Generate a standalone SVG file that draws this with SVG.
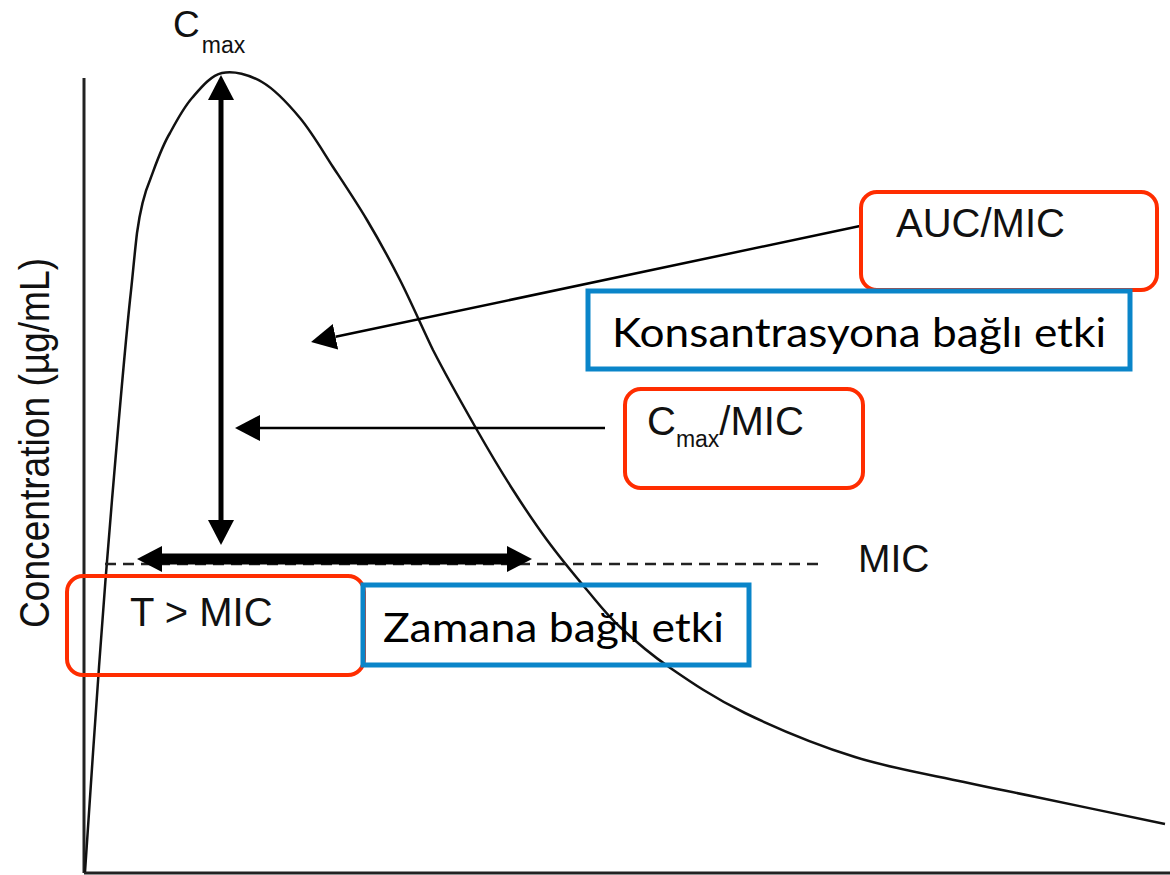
<svg xmlns="http://www.w3.org/2000/svg" width="1170" height="875" viewBox="0 0 1170 875">
  <style>
    .ar { font-family: "Liberation Sans", Arial, sans-serif; fill: #111; }
    .cal { font-family: Lato, "Open Sans", sans-serif; fill: #000; }
    .red { fill: none; stroke: #ff2d00; stroke-width: 4; }
    .blue { fill: none; stroke: #0a85c9; stroke-width: 5; }
    .ax { fill: none; stroke: #222; stroke-width: 3; }
    .curve { fill: none; stroke: #111; stroke-width: 2.5; stroke-linejoin: round; }
    .conn { fill: none; stroke: #000; }
  </style>
  <defs>
    <marker id="head" markerUnits="userSpaceOnUse" viewBox="0 0 25 26" markerWidth="25" markerHeight="26" refX="0" refY="13" orient="auto-start-reverse">
      <path d="M0,0 L25,13 L0,26 Z" fill="#000"/>
    </marker>
  </defs>
  <rect width="1170" height="875" fill="#fff"/>

  <g id="axes">
    <line class="ax" x1="84" y1="78" x2="84" y2="873"/>
    <line class="ax" x1="84" y1="873" x2="1170" y2="873"/>
    <text class="ar" transform="translate(49,443) rotate(-90)" text-anchor="middle" font-size="43" textLength="370" lengthAdjust="spacingAndGlyphs">Concentration (µg/mL)</text>
  </g>

  <g id="curve">
    <path class="curve" d="M85,872 C87.3,837.8 94.5,729 99,667 C103.5,605 106.8,561.2 112,500 C117.2,438.8 123.7,360 130,300 C132.5,278 134.5,254 137,233 C140,211 144,194 150,180 C156.7,162 162,146 170,133 C177,120 183.3,108 192,98 C200.7,88 210.3,75.7 222,73 C233.7,70.3 249,74.5 262,82 C275,89.5 288.2,103.8 300,118 C311.8,132.2 322,150 333,167 C344.2,184 355.8,201.2 367,220 C378.2,238.8 389,258.3 400,280 C411,301.7 421,325 433,350 C445.8,375 463.7,406.7 477,430 C490.3,453.3 501.3,471.7 513,490 C524.7,508.3 534.7,523.3 547,540 C559.3,556.7 574.8,575.5 587,590 C599.2,604.5 606.3,614.2 620,627 C633.7,639.8 648.2,652.7 669,667 C689.8,681.3 714,698 745,713 C776,728 818.5,745.5 855,757 C891.5,768.5 933.8,775.3 964,782 C994.2,788.7 1002.5,790 1036,797 C1069.5,804 1143.5,819.5 1165,824"/>
  </g>

  <g id="mic-line">
    <line x1="105" y1="564" x2="820" y2="564" stroke="#222" stroke-width="2.5" stroke-dasharray="11 7"/>
    <text class="ar" x="858" y="572" font-size="39">MIC</text>
  </g>

  <g id="cmax-label">
    <text class="ar" x="173" y="37" font-size="37">C<tspan font-size="23" dx="2" dy="16">max</tspan></text>
  </g>

  <g id="connectors">
    <line class="conn" x1="221" y1="100" x2="221" y2="520" stroke-width="5" marker-start="url(#head)" marker-end="url(#head)"/>
    <line class="conn" x1="162" y1="559" x2="507" y2="559" stroke-width="11" marker-start="url(#head)" marker-end="url(#head)"/>
    <line class="conn" x1="605" y1="428" x2="260" y2="428" stroke-width="2.5" marker-end="url(#head)"/>
    <line class="conn" x1="860" y1="226" x2="335.5" y2="336.8" stroke-width="2.5" marker-end="url(#head)"/>
  </g>

  <g id="node-auc">
    <rect class="red" x="861" y="192" width="296" height="98" rx="16"/>
    <text class="ar" x="896" y="237" font-size="40">AUC/MIC</text>
  </g>

  <g id="node-konsantrasyon">
    <rect class="blue" x="588" y="291" width="542" height="78"/>
    <text class="cal" x="612" y="347" font-size="40" textLength="494" lengthAdjust="spacingAndGlyphs">Konsantrasyona bağlı etki</text>
  </g>

  <g id="node-cmax-mic">
    <rect class="red" x="625" y="389" width="238" height="99" rx="16"/>
    <text class="ar" x="647" y="435" font-size="40">C<tspan font-size="23" dy="12">max</tspan><tspan dy="-12">/MIC</tspan></text>
  </g>

  <g id="node-t-mic">
    <rect class="red" x="67" y="576" width="297" height="99" rx="16"/>
    <text class="ar" x="130" y="626" font-size="40">T &gt; MIC</text>
  </g>

  <g id="node-zaman">
    <rect class="blue" x="363" y="585" width="386" height="80"/>
    <text class="cal" x="383" y="642" font-size="40" textLength="341" lengthAdjust="spacingAndGlyphs">Zamana bağlı etki</text>
  </g>
</svg>
